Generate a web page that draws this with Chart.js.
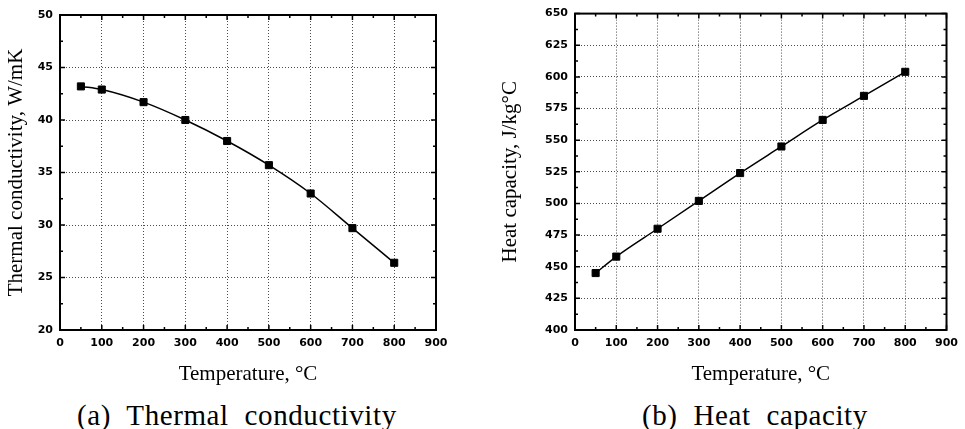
<!DOCTYPE html>
<html lang="en">
  <head>
    <meta charset="UTF-8" />
    <meta name="viewport" content="width=device-width, initial-scale=1.0" />
    <title>Thermal properties</title>
    <style>
      body {
        margin: 0;
        width: 965px;
        height: 429px;
        background: #fff;
        position: relative;
        overflow: hidden;
      }
      .chart-box {
        position: absolute;
        top: 0;
        height: 395px;
      }
      .caption {
        position: absolute;
        top: 401px;
        font-family: "Liberation Serif", serif;
        font-size: 29px;
        line-height: 29px;
        letter-spacing: 0.6px;
        word-spacing: 8px;
        white-space: nowrap;
        color: #000;
      }
    </style>
  </head>
  <body>
    <div class="chart-box" style="left: 0; width: 470px">
      <canvas id="chartA"></canvas>
    </div>
    <div class="chart-box" style="left: 480px; width: 485px">
      <canvas id="chartB"></canvas>
    </div>
    <div class="caption" style="left: 77px">(a) Thermal conductivity</div>
    <div class="caption" style="left: 642px">(b) Heat capacity</div>

    <script src="https://cdn.jsdelivr.net/npm/chart.js"></script>

    <script>
      // temperature, °C
      const temps = [50, 100, 200, 300, 400, 500, 600, 700, 800];
      // W/mK
      const conductivity = [43.2, 42.9, 41.7, 40.0, 38.0, 35.7, 33.0, 29.7, 26.4];
      // J/kg°C
      const heatCapacity = [445, 458, 480, 502, 524, 545, 566, 585, 604];

      const xRange = { min: 0, max: 900, step: 100 };
      const condRange = { min: 20, max: 50, step: 5 };
      const heatRange = { min: 400, max: 650, step: 25 };

      // box around the plot with inward major + minor ticks on all sides
      const frame = {
        id: "frame",
        beforeDatasetsDraw(chart) {
          const { ctx, chartArea: a, scales } = chart;
          const x = scales.x;
          const y = scales.y;
          ctx.save();
          ctx.strokeStyle = "#000";
          ctx.lineWidth = 1.5;
          ctx.beginPath();
          for (let v = x.options.min; v <= x.options.max; v += x.options.ticks.stepSize / 2) {
            const px = x.getPixelForValue(v);
            const len = v % x.options.ticks.stepSize === 0 ? 5 : 3;
            ctx.moveTo(px, a.bottom);
            ctx.lineTo(px, a.bottom - len);
            ctx.moveTo(px, a.top);
            ctx.lineTo(px, a.top + len);
          }
          const ys = y.options.ticks.stepSize;
          for (let v = y.options.min; v <= y.options.max + 0.01; v += ys / 2) {
            const py = y.getPixelForValue(v);
            const len = Math.abs(((v - y.options.min) / ys) % 1) < 0.01 ? 5 : 3;
            ctx.moveTo(a.left, py);
            ctx.lineTo(a.left + len, py);
            ctx.moveTo(a.right, py);
            ctx.lineTo(a.right - len, py);
          }
          ctx.stroke();
          ctx.lineWidth = 2;
          ctx.strokeRect(a.left, a.top, a.right - a.left, a.bottom - a.top);
          ctx.restore();
        },
      };

      function makeChart(id, values, yr, yTitle, pad, yWidth, titlePad) {
        return new Chart(document.getElementById(id), {
          type: "line",
          data: {
            datasets: [
              {
                data: temps.map((t, i) => ({ x: t, y: values[i] })),
                borderColor: "#000",
                backgroundColor: "#000",
                borderWidth: 1.5,
                pointStyle: "rect",
                pointRadius: 5,
                pointBorderWidth: 1,
                cubicInterpolationMode: "monotone",
              },
            ],
          },
          options: {
            responsive: true,
            maintainAspectRatio: false,
            animation: false,
            layout: { padding: pad },
            plugins: {
              legend: { display: false },
              tooltip: { enabled: false },
            },
            scales: {
              x: {
                type: "linear",
                min: xRange.min,
                max: xRange.max,
                afterFit: (s) => {
                  s.height = 395 - 330;
                },
                ticks: {
                  stepSize: xRange.step,
                  padding: 7,
                  color: "#000",
                  maxRotation: 0,
                  font: { family: "DejaVu Sans", weight: "bold", size: 11 },
                },
                grid: {
                  color: "rgba(0,0,0,0.7)",
                  drawTicks: false,
                },
                border: { display: false, dash: [1, 2] },
                title: {
                  display: true,
                  text: "Temperature, °C",
                  color: "#000",
                  font: { family: "Liberation Serif", size: 21 },
                  padding: { top: 0, bottom: 8 },
                },
              },
              y: {
                min: yr.min,
                max: yr.max,
                afterFit: (s) => {
                  s.width = yWidth;
                },
                ticks: {
                  stepSize: yr.step,
                  padding: 7,
                  color: "#000",
                  font: { family: "DejaVu Sans", weight: "bold", size: 11 },
                },
                grid: {
                  color: "rgba(0,0,0,0.7)",
                  drawTicks: false,
                },
                border: { display: false, dash: [1, 2] },
                title: {
                  display: true,
                  text: yTitle,
                  color: "#000",
                  font: { family: "Liberation Serif", size: 21 },
                  padding: { top: titlePad, bottom: 0 },
                },
              },
            },
          },
          plugins: [frame],
        });
      }

      const chartA = makeChart(
        "chartA",
        conductivity,
        condRange,
        "Thermal conductivity, W/mK",
        { top: 15, right: 34, bottom: 0, left: 0 },
        60,
        4
      );

      const chartB = makeChart(
        "chartB",
        heatCapacity,
        heatRange,
        "Heat capacity, J/kg°C",
        { top: 13, right: 13, bottom: 0, left: 0 },
        95,
        18
      );
    </script>
  </body>
</html>
